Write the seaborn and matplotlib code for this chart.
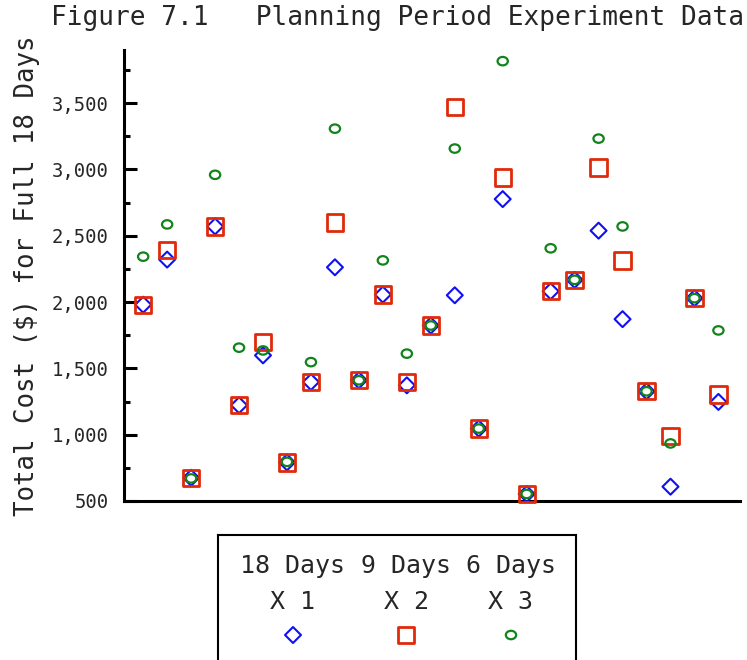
import matplotlib
matplotlib.use("Agg")
import matplotlib.pyplot as plt
import numpy as np
import pandas as pd
import seaborn as sns
from matplotlib.path import Path
from matplotlib.markers import MarkerStyle
from matplotlib.transforms import Affine2D
from matplotlib.ticker import MultipleLocator, FuncFormatter

# Planning-period experiment: total cost of each trial under three plans
trials = list(range(1, 26))
cost_18_days_x1 = [1980, 2320, 675, 2570, 1222, 1598, 791, 1397, 2262, 1410,
                   2056, 1372, 1823, 2051, 1046, 2776, 553, 2081, 2167, 2538,
                   1871, 1327, 608, 2029, 1247]
cost_9_days_x2 = [1980, 2390, 675, 2570, 1222, 1698, 791, 1397, 2600, 1410,
                  2056, 1397, 1823, 3472, 1046, 2939, 553, 2081, 2167, 3014,
                  2314, 1327, 991, 2029, 1302]
cost_6_days_x3 = [2342, 2585, 670, 2959, 1656, 1635, 795, 1547, 3307, 1410,
                  2314, 1611, 1823, 3157, 1046, 3816, 553, 2405, 2167, 3232,
                  2570, 1327, 934, 2029, 1786]

series_names = ["18 Days\nX 1", "9 Days\nX 2", "6 Days\nX 3"]
title_text = "Figure 7.1   Planning Period Experiment Data"
y_title = "Total Cost ($) for Full 18 Days"

BLUE = "#1010F5"
RED = "#E02A0A"
GREEN = "#10841A"
TEXT = "#262626"

sns.set_theme(style="white")
plt.rcParams["font.family"] = ["DejaVu Sans Mono", "DejaVu Sans"]

df = pd.DataFrame({
    "trial": trials,
    "x1": cost_18_days_x1,
    "x2": cost_9_days_x2,
    "x3": cost_6_days_x3,
})

# slightly flattened open circle
ellipse = Path.unit_circle().transformed(Affine2D().scale(1.0, 0.82))
styles = [
    dict(col="x1", marker="D", s=66, color=BLUE, lw=1.5),
    dict(col="x2", marker="s", s=137, color=RED, lw=2.0),
    dict(col="x3", marker=MarkerStyle(ellipse), s=55, color=GREEN, lw=1.6),
]

W, H = 747, 660
fig = plt.figure(figsize=(W / 100, H / 100), dpi=100)
ax = fig.add_axes([124 / W, 1 - 501 / H, (740 - 124) / W, (501 - 50) / H])

for i, st in enumerate(styles):
    sns.scatterplot(data=df, x="trial", y=st["col"], marker=st["marker"],
                    s=st["s"], facecolors="none", edgecolor=st["color"],
                    linewidth=st["lw"], ax=ax, legend=False, zorder=3 + i,
                    clip_on=False)

ax.set_xlim(0.2, 25.9)
ax.set_ylim(500, 3900)
ax.set_xticks([])
ax.set_xlabel("")
ax.yaxis.set_major_locator(MultipleLocator(500))
ax.yaxis.set_minor_locator(MultipleLocator(250))
ax.yaxis.set_major_formatter(FuncFormatter(lambda v, p: f"{v:,.0f}"))
ax.tick_params(axis="y", which="major", direction="in", length=9, width=2.2,
               pad=11, labelsize=13.6, labelcolor=TEXT, color="black", left=True)
ax.tick_params(axis="y", which="minor", direction="in", length=4.5, width=2.2,
               color="black", left=True)
for side in ["top", "right"]:
    ax.spines[side].set_visible(False)
for side in ["left", "bottom"]:
    ax.spines[side].set_linewidth(2.2)
    ax.spines[side].set_color("black")

ax.set_ylabel(y_title, fontsize=18.5, color=TEXT)
ax.yaxis.set_label_coords(-0.137, 0.5)

fig.text(51 / W, 1 - 25 / H, title_text, ha="left", va="baseline",
         fontsize=18.8, color=TEXT)

# key box below the plot, three columns: name, multiplier, marker
lax = fig.add_axes([218 / W, 1 - 700 / H, (576 - 218) / W, (700 - 535) / H])
lax.set_xlim(218, 576)
lax.set_ylim(700, 535)
lax.set_xticks([])
lax.set_yticks([])
lax.patch.set_alpha(0)
for sp in lax.spines.values():
    sp.set_linewidth(1.5)
    sp.set_color("black")
key_x = [293, 406, 511]
for kx, name, st in zip(key_x, series_names, styles):
    top, bottom = name.split("\n")
    lax.text(kx, 573, top, ha="center", va="baseline", fontsize=18, color=TEXT)
    lax.text(kx, 609, bottom, ha="center", va="baseline", fontsize=18, color=TEXT)
    lax.scatter([kx], [635], marker=st["marker"], s=st["s"], facecolors="none",
                edgecolors=st["color"], linewidths=st["lw"])

fig.savefig("out.png", dpi=100)
